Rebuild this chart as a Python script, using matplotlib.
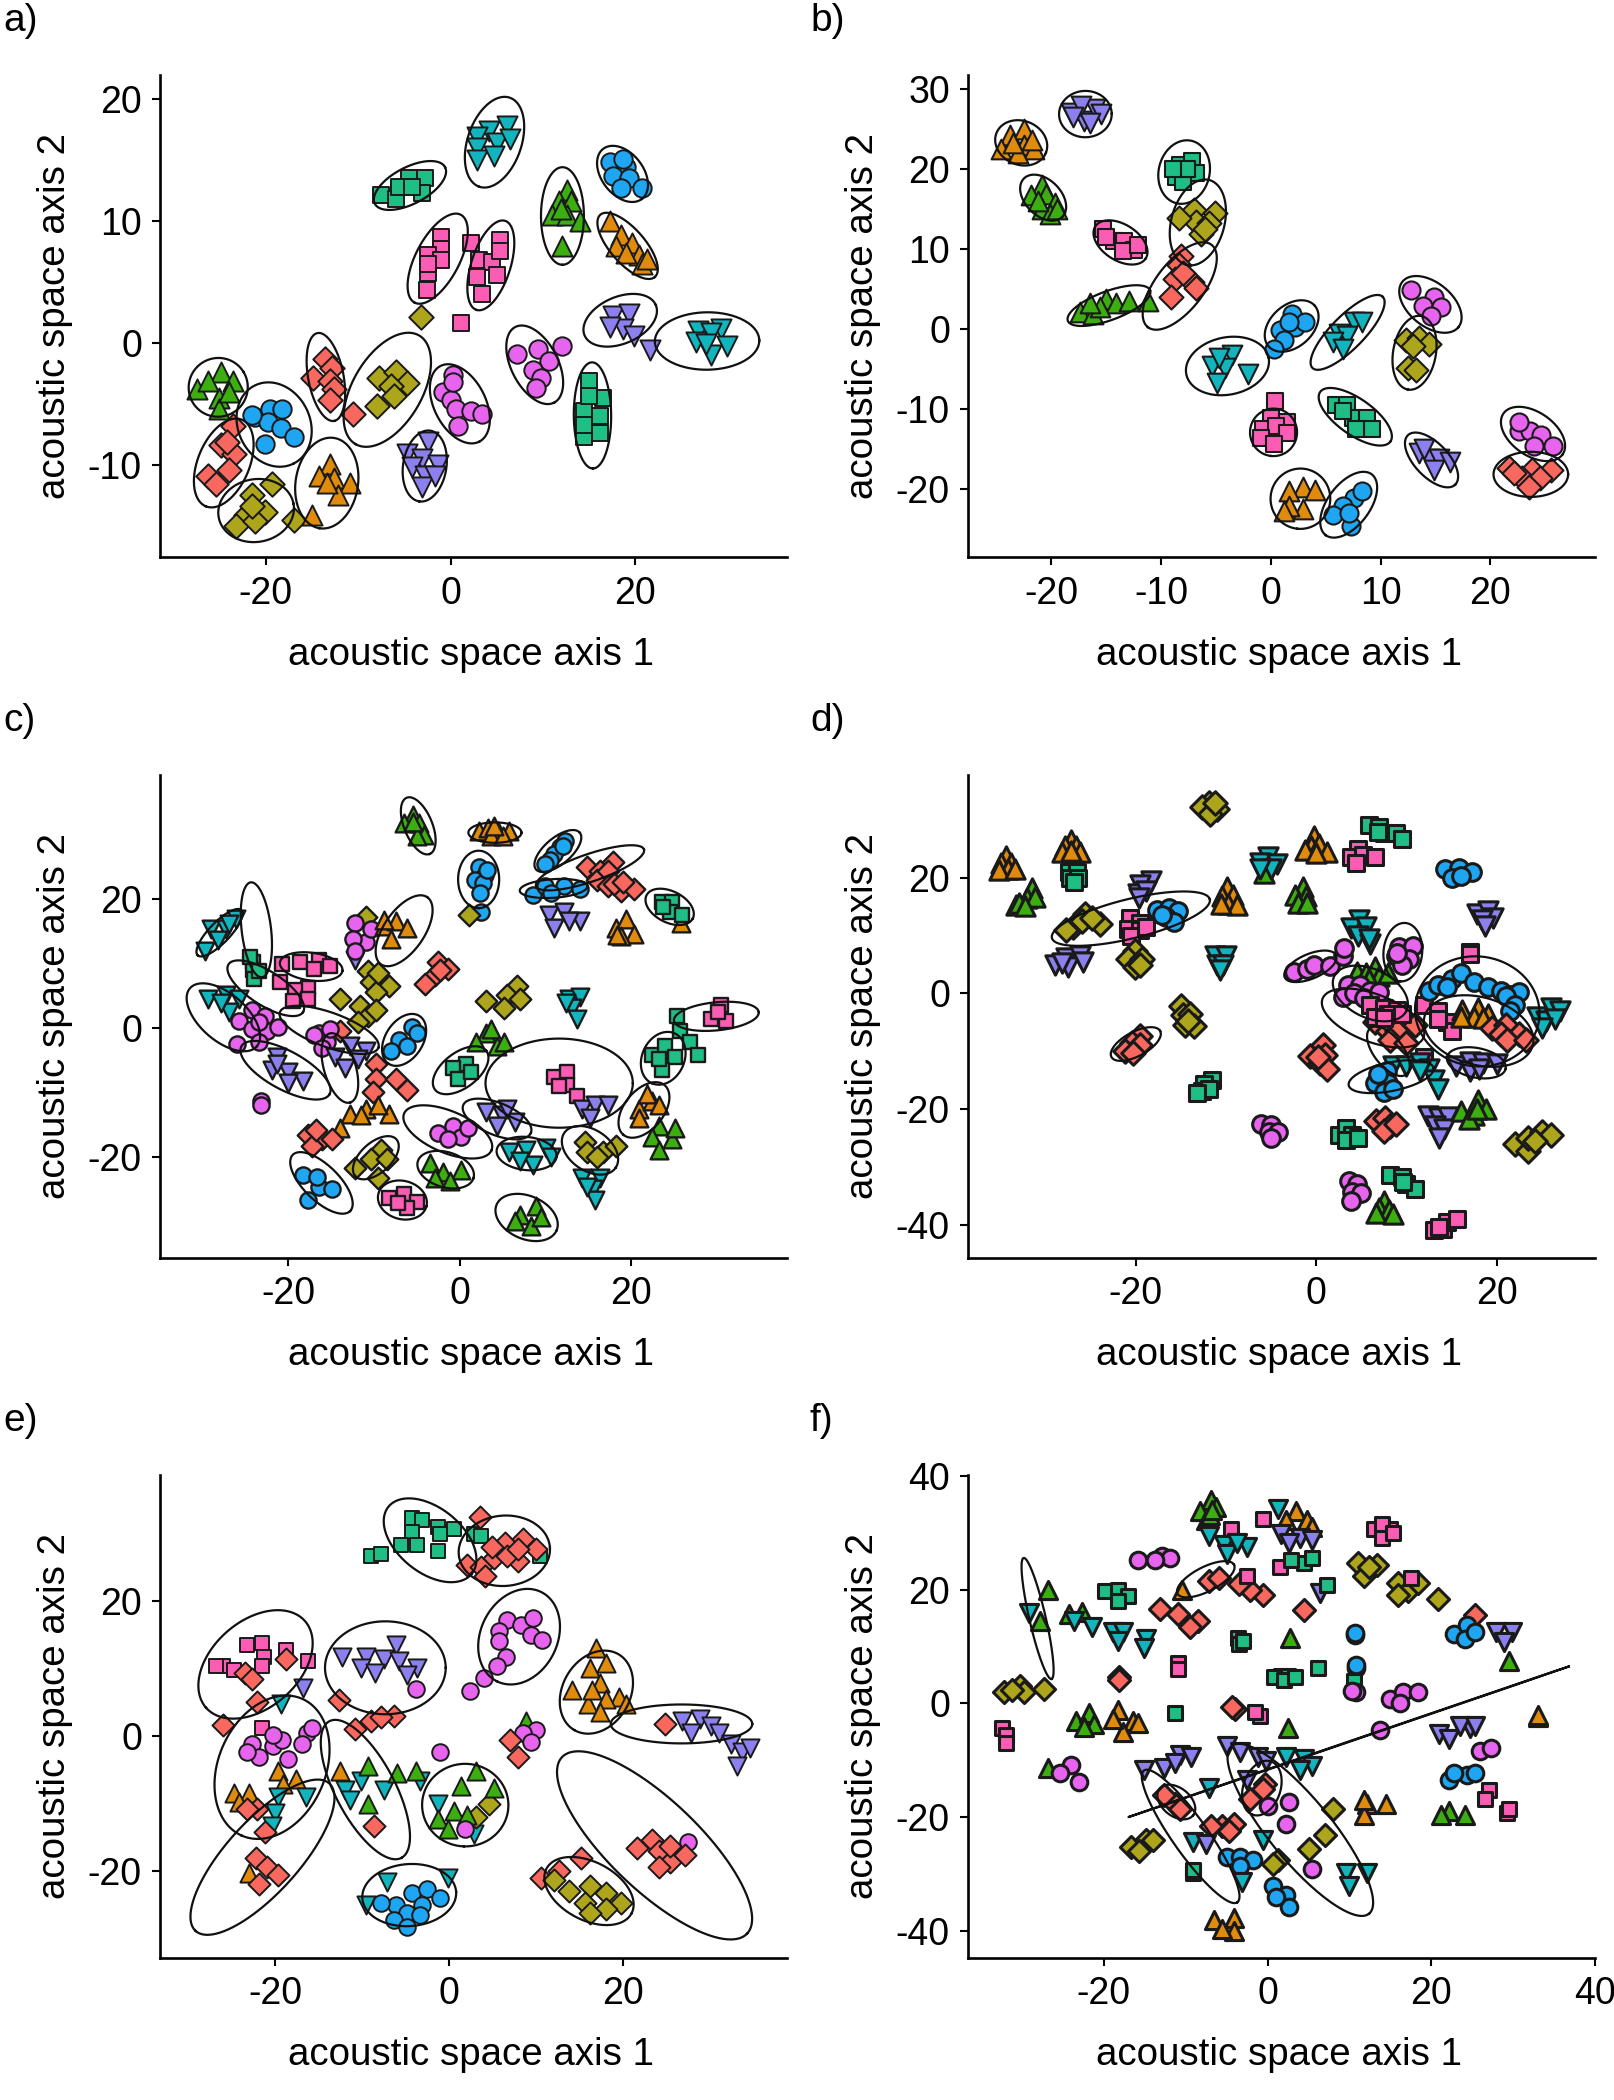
import numpy as np
import matplotlib
matplotlib.use("Agg")
import matplotlib.pyplot as plt

plt.rcParams['font.family'] = ['Liberation Sans', 'DejaVu Sans']
plt.rcParams['axes.unicode_minus'] = False

SPECIES_COLORS = {'sal': '#F8685F', 'ora': '#E08B0C', 'oli': '#ADA61C', 'gre': '#3DAE10', 'sea': '#1EBE85',
                  'tea': '#12B5BE', 'blu': '#1FA6F2', 'pur': '#8C80EE', 'mag': '#E765EE', 'pin': '#FB5DB4'}
SPECIES_MARKERS = {'sal': 'D', 'ora': '^', 'oli': 'D', 'gre': '^', 'sea': 's',
                   'tea': 'v', 'blu': 'o', 'pur': 'v', 'mag': 'o', 'pin': 's'}
SHAPE_SCALE = {'D': 1.15, '^': 1.55, 'v': 1.55, 'o': 1.3, 's': 1.05}
ELLIPSE_WIDEN = 1.1

PANEL_LABELS = ['a)', 'b)', 'c)', 'd)', 'e)', 'f)']
X_LABEL = 'acoustic space axis 1'
Y_LABEL = 'acoustic space axis 2'

XLIMS = [(-31.45, 36.4), (-27.6, 29.55), (-35, 38.2), (-38.6, 30.9), (-33.3, 38.9), (-36.6, 40)]
YLIMS = [(-17.6, 22), (-28.6, 31.8), (-35.5, 39.3), (-45.7, 37.9), (-32.8, 38.6), (-44.8, 40.2)]
XTICKS = [[-20, 0, 20], [-20, -10, 0, 10, 20], [-20, 0, 20], [-20, 0, 20], [-20, 0, 20], [-20, 0, 20, 40]]
YTICKS = [[-10, 0, 10, 20], [-20, -10, 0, 10, 20, 30], [-20, 0, 20], [-40, -20, 0, 20], [-20, 0, 20], [-40, -20, 0, 20, 40]]

# clusters: (species, [(axis 1, axis 2), ...])
A_POINTS = [
 ('gre', [(-24.9,-2.4),(-27.4,-3.8),(-23.5,-3.1),(-25.1,-4.5),(-25.1,-5.4),(-26.3,-3.1),(-24,-4)]),
 ('blu', [(-21.2,-6.1),(-19.6,-5.4),(-18.2,-5.4),(-19.8,-6.5),(-18.4,-7),(-17,-7.7),(-20.1,-8.3),(-21.5,-5.9)]),
 ('sal', [(-23.5,-6.8),(-24.8,-8.4),(-23.4,-9.1),(-24,-10.4),(-26.3,-10.9),(-25.4,-11.6),(-24.2,-8.1)]),
 ('oli', [(-19.3,-11.6),(-21.5,-12.5),(-20.1,-13.9),(-22.1,-14.1),(-23.2,-15),(-21.2,-14.6),(-17,-14.5),(-21.5,-13.4)]),
 ('ora', [(-13.1,-9.9),(-14.2,-10.9),(-12.6,-11.1),(-10.9,-11.5),(-12.2,-12.5),(-15,-14.1),(-13.4,-11.5)]),
 ('sal', [(-13.6,-1.3),(-12.8,-2.1),(-14.9,-2.9),(-13.1,-3.1),(-12.6,-3.8),(-13.1,-4.7),(-10.6,-5.8)]),
 ('oli', [(-7.8,-2.9),(-5.9,-2.4),(-4.7,-3.3),(-6.4,-3.5),(-6.1,-4.4),(-8,-5.2),(-3.2,2.1)]),
 ('mag', [(0.3,-2.6),(-0.8,-4),(0,-4.7),(0.6,-5.4),(2.2,-5.6),(3.4,-5.8),(0.8,-6.8),(0.3,-3.2)]),
 ('pur', [(-2.5,-8.1),(-4.7,-9.1),(-3.1,-9.5),(-1.4,-10),(-4.2,-10.2),(-2.8,-10.9),(-3.1,-11.8),(-1.7,-10.9)]),
 ('sea', [(-7.5,12.1),(-5.9,11.8),(-4.5,13.5),(-2.8,13.5),(-5.6,12.8),(-3.1,12.3),(-4.2,12.8)]),
 ('tea', [(6.1,17.8),(4.2,17.4),(2.8,16.9),(2.8,16),(5,16.4),(6.4,16.7),(2.8,15),(4.7,15.3)]),
 ('blu', [(17.3,14.8),(19,14.4),(17.6,13.7),(19.3,13.5),(18.7,15.1),(20.7,12.7),(18.4,12.7)]),
 ('gre', [(12.6,12.5),(11.7,11.6),(13,11.6),(11,10.5),(12.6,10.5),(14,10),(12,7.9),(11.9,11)]),
 ('ora', [(17.2,10),(18.4,8.8),(17.9,7.9),(19.6,8.2),(20.4,7.2),(20.7,6.5),(19,7.4),(21.3,6.9)]),
 ('pin', [(-1,8.7),(-1,7.7),(-2.5,7.2),(-1,6.8),(-2.5,5.7),(-2.6,4.3),(-2.5,6.5)]),
 ('pin', [(2.2,8.2),(5.3,8.4),(3.1,6.8),(4.5,6.6),(5,5.6),(2.8,5.4),(3.4,4),(5.3,7.5),(1.1,1.6)]),
 ('mag', [(7.2,-0.9),(9.5,-0.5),(12.1,-0.3),(10.6,-1.5),(8.9,-2.2),(9.8,-2.9),(9.2,-3.7)]),
 ('sea', [(15,-3.1),(16.5,-4.5),(14.4,-5.6),(16.2,-6),(14.4,-7.7),(16.2,-7.4),(15,-4.4),(14.4,-6.7)]),
 ('pur', [(17.6,2.2),(19.3,2.4),(18.7,1.1),(17.3,1.3),(19.8,0.6),(21.6,-0.6)]),
 ('tea', [(26.8,1),(29.3,1.1),(28.2,0.8),(26.5,0.1),(29.9,-0.3),(28.2,-1),(27.6,-0.1)]),
]
# ellipses: (tip 1 axis 1, tip 1 axis 2, tip 2 axis 1, tip 2 axis 2, minor to major ratio on the page)
A_ELLIPSES = [(-27.9,-4.9,-22.4,-2.4,.9),(-21.2,-3.5,-17,-9.9,.75),(-22.6,-6.3,-26.5,-13.4,.5),(-25.1,-14.3,-17,-13.2,.75),
 (-12.6,-7.8,-14.2,-15.2,.62),(-14.4,.8,-12.6,-6.4,.36),(-3.4,.6,-10.3,-8.3,.5),(-1.1,-1.9,3.1,-8.1,.55),(-2.2,-7.2,-3.4,-13,.55),
 (-8.2,11.4,-.6,14.4,.42),(6.4,20.1,3.1,12.8,.52),(16.5,15.9,20.7,11.8,.6),(12.1,14.4,12.1,6.4,.4),(16.2,10.5,22.1,5.4,.38),
 (1.1,10.5,-3.9,3.3,.4),(5.9,10,2.8,2.7,.38),(7,1.3,11.2,-4.9,.5),(15.3,-1.6,15.4,-10.3,.32),(14.5,.6,22.2,3.1,.55),(22.1,.1,33.4,.2,.5)]

B_POINTS = [
 ('ora', [(-23.8,24.2),(-22.5,25),(-24.6,22.5),(-22.5,23),(-21.6,22.5),(-23,22),(-21.8,23.6),(-23.5,23.2)]),
 ('pur', [(-18.2,27),(-17,26),(-16,27.5),(-17.3,27.8),(-15.5,26.8),(-18,26.5),(-16.5,25.7)]),
 ('gre', [(-20.9,18),(-21.9,16.7),(-20.5,16.8),(-19.7,15.7),(-20.9,15),(-20.1,14.3),(-21.2,16),(-19.5,15)]),
 ('pin', [(-15.3,12.5),(-14.3,11),(-13.4,11),(-12.5,9.8),(-13.5,9.7),(-15,11.5),(-12.1,10.5)]),
 ('sea', [(-8.3,20.5),(-7.2,21),(-8.6,19),(-6.8,19.5),(-8,18.3),(-7.6,20),(-8.9,20)]),
 ('oli', [(-7,14.8),(-5.1,14.5),(-6.8,13.3),(-5.6,13.2),(-6.4,11.8),(-8.4,13.8),(-6,12.5)]),
 ('sal', [(-8.2,9.1),(-8.4,8),(-8.7,6.2),(-7.2,5.9),(-6.8,5.1),(-9.1,4),(-8,7)]),
 ('gre', [(-17.4,2.1),(-16.2,1.8),(-15,3.7),(-14.1,3.2),(-12.9,3.5),(-11.2,3.5),(-15.6,2.7),(-16.5,3.2)]),
 ('blu', [(1.9,1.8),(.8,-.1),(2.2,.2),(3.1,.8),(1.2,-1.4),(.3,-2.5),(1.7,.8)]),
 ('tea', [(-3.5,-3.3),(-5.4,-4.7),(-4.2,-4.9),(-2.1,-5.7),(-4.9,-6.8),(-4.7,-3.6)]),
 ('tea', [(7.6,.8),(6.2,-.6),(6.9,-.9),(8.3,.8),(5.7,-1.7),(6.6,-2.5)]),
 ('mag', [(12.8,4.9),(14.9,4),(13.9,2.9),(15.5,2.7),(14.6,1.6)]),
 ('oli', [(12.3,-1.4),(13.5,-1.1),(14.4,-1.9),(12.5,-4.9),(13.2,-5.2),(13,-2.2)]),
 ('pin', [(.4,-9),(0,-11.1),(1.5,-11.7),(-.7,-12.5),(.5,-12.2),(1.5,-13),(-.9,-13.6),(.3,-14.4)]),
 ('sea', [(5.9,-9.5),(6.9,-9.5),(7.5,-11.1),(8.8,-11.1),(9.2,-12.5),(7.8,-12.5),(6.6,-10.3)]),
 ('pur', [(13.5,-15.5),(14.4,-16.3),(15.3,-16.3),(14.9,-17.6),(16.3,-16.6),(14,-15)]),
 ('mag', [(22.6,-12.8),(23.6,-12.8),(24.6,-13.3),(24,-14.7),(25.7,-14.7),(22.6,-11.7)]),
 ('sal', [(21.7,-17.4),(23.8,-17.6),(25.5,-17.6),(22.9,-18.7),(24.5,-18.7),(23.5,-19.8),(22.2,-18)]),
 ('ora', [(2.9,-19.8),(1.7,-20.3),(4,-20.1),(2.9,-22.5),(1.7,-22.2),(1.2,-22.8)]),
 ('blu', [(7.6,-21.2),(8.3,-20.3),(6.6,-22.2),(5.7,-23.3),(7.3,-24.7),(7.1,-23)]),
]
B_ELLIPSES = [(-25,24.5,-20.5,22,.75),(-19.3,26.8,-14.5,26.9,.8),(-22.5,18.8,-19,14,.6),(-16,12.8,-11.4,8.8,.55),(-7.2,23.5,-8.6,15.7,.72),
 (-5.6,18.6,-7.7,8,.55),(-5.4,10.5,-11.2,.2,.42),(-18.5,1,-11,4.8,.3),(-.2,-2.2,4,2.9,.62),(-7.7,-5.7,-.2,-3.6,.62),(3.8,-4.9,10.2,4,.3),
 (12,5.9,17.1,.2,.55),(13.7,1.6,12.5,-7.6,.52),(.5,-10,0,-15.9,.9),(4.5,-7.9,10.9,-14.1,.38),(12.5,-13.3,16.8,-19.5,.45),(21.2,-10.6,26.6,-15.7,.55),
 (20.3,-18.2,27.1,-18.2,.55),(3,-17.5,2.4,-25,.9),(9.2,-18.2,5,-25.8,.5)]

C_POINTS = [
 ('gre', [(-5.5,33),(-6.5,31.8),(-4.8,31.8),(-4.2,30),(-5,29.8),(-5.5,32)]),
 ('ora', [(2.2,30.5),(3.3,31),(4.5,30.5),(5.8,30.5),(3.7,29.7),(5,29.8),(4,31.4)]),
 ('blu', [(12.3,29),(11.7,28),(11,27),(10.5,26),(12,28.2),(10,25.5)]),
 ('blu', [(2.2,25),(3,23.7),(1.8,23),(2.7,22.5),(2.4,21),(3.2,24.5),(2.5,18)]),
 ('oli', [(1.1,17.5)]),
 ('sal', [(14.9,25),(16.4,24.3),(17.9,25.7),(16,23),(17.3,24.3)]),
 ('sal', [(17.3,22),(18.8,21.3),(20.3,21.6),(18,22.3),(19,22.6)]),
 ('blu', [(8.6,20.6),(10,22),(12.2,22.1),(10.7,21),(14,21.6)]),
 ('pur', [(10.4,17.6),(12.2,18),(14,16.6),(11,15.6),(12.8,16.6)]),
 ('ora', [(18.2,15.6),(19.4,16.9),(20.3,14.6),(18.8,14.3),(18.3,14.4)]),
 ('ora', [(25.8,16.3)]),
 ('sea', [(23.6,19.6),(24.8,19.6),(24.5,18),(26,17.6),(23.7,18.8)]),
 ('tea', [(-26.1,16.9),(-29.1,15.3),(-27.3,15.3),(-28.2,13.6),(-29.7,11.9),(-27,16.2)]),
 ('sea', [(-24.1,10.3),(-24.2,9),(-24,7.7),(-23.5,8.8),(-24.5,11)]),
 ('pin', [(-20.7,9.9),(-18.6,10.2),(-16.4,10.6),(-17,9.2),(-15.2,9.6)]),
 ('pin', [(-21,7.2),(-17.7,6.2),(-19.2,5.9),(-19.5,4.2),(-17.7,4.6)]),
 ('tea', [(-29.4,4.6),(-27.3,5.2),(-25.8,4.6),(-27,2.5),(-27.9,3.9)]),
 ('mag', [(-25.8,1.2),(-24.3,2.9),(-22.8,1.9),(-24.3,-.1),(-22.5,-.5),(-26,-2.5),(-23.4,-2.1),(-21.2,.2),(-23.5,1)]),
 ('pur', [(-21.3,-4.5),(-21.9,-6.5),(-20,-6.8),(-18.3,-8.2),(-20,-8.5),(-21.3,-5.5)]),
 ('mag', [(-23.2,-11.2),(-23.2,-11.9)]),
 ('oli', [(-10.9,17.3)]),
 ('pur', [(-12.2,10.6)]),
 ('mag', [(-12.2,16.3),(-11,13.3),(-12.5,13.9),(-10.4,15.3),(-12.2,11.9)]),
 ('ora', [(-8.9,15.9),(-7.4,16.6),(-6.2,15.6),(-8,13.9),(-8.9,16.8)]),
 ('oli', [(-10.7,8.9),(-10.4,7.2),(-8.3,6.6),(-9.8,5.6),(-9.5,8.5)]),
 ('sal', [(-2.6,10.2),(-1.4,9.2),(-2.9,8.2),(-4.1,6.9),(-2.3,9)]),
 ('oli', [(6.7,6.6),(5.5,5.2),(3.1,4.2),(5.2,3.2),(7,4.6)]),
 ('tea', [(12.8,4.6),(14,4.9),(13.1,3.2),(13.7,1.5),(12.4,3.9)]),
 ('pin', [(30.5,3.6),(29.3,1.5),(31.1,1.2),(30.2,2.5)]),
 ('sea', [(25.4,1.9),(25.7,-.5),(26.9,-2.1),(27.8,-4.2)]),
 ('sea', [(22.4,-4.2),(23.9,-2.8),(25.1,-4.5),(23.6,-6.5),(23.3,-4.8)]),
 ('oli', [(-14,4.6),(-11.6,3.5),(-10.7,1.9),(-11.9,.9),(-9.8,2.9)]),
 ('sal', [(-14,-.4)]),
 ('mag', [(-16.4,-.8),(-15.5,-2.1),(-17,-1.1),(-15.2,-.1),(-16.1,-3.1)]),
 ('pur', [(-14.6,-4.5),(-12.8,-2.8),(-11,-3.5),(-13.4,-6.2),(-11.9,-4.8)]),
 ('blu', [(-5.6,.2),(-7.1,-1.8),(-6.2,-2.8),(-8,-3.5),(-5,-.8)]),
 ('sal', [(-9.8,-5.5),(-9.8,-7.8),(-7.4,-7.8),(-6.2,-9.5),(-10.1,-9.8)]),
 ('ora', [(-12.8,-13.2),(-11,-12.5),(-8.3,-13.2),(-9.5,-11.9),(-11.5,-13.5)]),
 ('ora', [(-14,-15.5)]),
 ('sal', [(-17.7,-16.5),(-16.1,-17.2),(-14.9,-17.2),(-17.3,-18.2),(-16.8,-15.8)]),
 ('blu', [(-18.3,-22.8),(-16.4,-24.6),(-14.9,-24.9),(-17.7,-26.6),(-16.7,-23.1)]),
 ('oli', [(-9.2,-18.9),(-10.4,-20.2),(-12.2,-21.6),(-9.5,-23.2),(-8.5,-20.2)]),
 ('pin', [(-8.3,-26.3),(-6.5,-25.6),(-5,-26.9),(-6.2,-27.9),(-7.2,-27)]),
 ('gre', [(-3.5,-20.9),(-2,-22.2),(.1,-21.9),(-1.1,-23.6),(-2.9,-23.2)]),
 ('mag', [(-2.6,-16.2),(-.8,-15.2),(.1,-16.9),(-1.4,-17.2),(1,-15.5)]),
 ('pur', [(3.1,-12.9),(4.9,-13.5),(6.4,-14.5),(4.3,-15.2),(5.5,-12.5)]),
 ('tea', [(5.8,-19.2),(7.7,-18.9),(10.1,-18.6),(8.6,-21.2),(7,-20.6),(10.7,-19.9)]),
 ('gre', [(8.9,-27.6),(7,-28.9),(8.3,-30.6),(9.5,-29.3),(6.4,-29.9)]),
 ('pin', [(11,-7.5),(12.5,-6.8),(12.5,-8.8),(13.7,-10.5),(11.6,-9)]),
 ('pur', [(14.3,-12.5),(15.8,-11.9),(17.3,-11.9),(15.2,-13.9)]),
 ('oli', [(14.6,-17.6),(14.9,-19.2),(16.7,-19.2),(18.2,-18.2),(16,-19.9)]),
 ('tea', [(14.3,-23.2),(16.4,-23.2),(15.5,-24.9),(15.8,-26.6),(14.9,-24.6)]),
 ('ora', [(20.9,-12.5),(22.4,-11.2),(23.3,-11.9),(20.9,-13.9),(21.8,-10.2)]),
 ('gre', [(23.3,-15.2),(22.4,-16.9),(24.8,-17.2),(23.3,-18.9),(25.1,-15.5)]),
 ('gre', [(3.1,-.8),(1.9,-2.1),(4.3,-2.8),(5.2,-2.1),(3.7,-.1)]),
 ('sea', [(.7,-5.5),(-.8,-6.2),(-.2,-7.8),(1.3,-6.8)]),
]
C_ELLIPSES = [(-6.2,35.7,-3.5,27,.42),(1,30.3,7.2,30.3,.35),(8.9,24.6,14,30.3,.42),(2.2,27.5,2.2,18.6,.65),(8.9,22,21.5,27.7,.22),
 (7,21.3,14.9,22,.25),(21.8,20.6,27.2,17,.55),(-25.5,18.3,-30.6,11.3,.3),(-24.4,22.6,-23.1,7.9,.28),(-27,9.9,-18.3,2.5,.35),(-21,10.2,-13.7,8.9,.4),
 (-31.5,6.2,-23.7,-2.8,.48),(-25.5,-2.8,-15.2,-10.2,.35),(-9.2,9.9,-3.8,20.3,.45),(-21,2.5,-9.5,-3,.3),(-4.7,1.9,-8.3,-5.5,.6),(-15.2,-.8,-12.8,-11.5,.4),
 (-19.5,-19.6,-12.8,-28.3,.4),(-7.4,-17.2,-12.2,-22.9,.5),(-9.5,-25.6,-3.9,-27.6,.7),(-4.9,-20.6,1.6,-23.2,.55),(-6.5,-13.2,3.7,-18.9,.4),(.4,-11.9,8.3,-16.2,.4),
 (4.3,-18.9,11.3,-19.9,.5),(4.3,-27.3,11.3,-31.3,.6),(3,-8.5,20.2,-8.5,.55),(12.2,-16.2,18.2,-21.6,.6),(23.9,-8.8,19.1,-16.5,.55),(25,1.2,34.9,2.5,.3),
 (25.1,-.8,22.4,-8.5,.7),(-2.9,-9.5,3.1,-3.5,.5)]

D_POINTS = [
 ('oli', [(-11.9,33),(-12.7,32.2),(-11,32),(-11.8,31),(-11.2,33)]),
 ('ora', [(-34.4,23.8),(-34.9,22.5),(-33.8,22.5),(-34.2,21.5),(-35.2,21.4),(-33.4,21.6)]),
 ('ora', [(-27.2,26.5),(-27.9,25.5),(-26.6,25.5),(-28.2,24.5),(-26.2,24.5),(-27.2,24.7)]),
 ('sea', [(-27.4,21),(-26.5,21),(-27.3,20),(-26.4,19.9),(-26.9,19.3)]),
 ('gre', [(-31.5,18.3),(-33.3,15.3),(-32.1,16.5),(-31.2,16.7),(-33,15.6),(-32.3,15.2)]),
 ('pur', [(-18.3,19.5),(-19.5,18.8),(-19.8,17.2),(-18.9,17.8),(-19.7,16.5)]),
 ('ora', [(-9.9,18.5),(-10.4,16.8),(-9.2,17),(-9.8,15.5),(-8.8,15.3),(-10.6,15.5)]),
 ('blu', [(-17.6,14.5),(-16.3,14.8),(-15.3,14.2),(-16.6,13.2),(-15.8,12.4),(-17.1,13.6)]),
 ('oli', [(-25.6,13.8),(-27,11.5),(-26,12.5),(-24,12),(-27.7,11),(-24.8,13)]),
 ('pin', [(-20.6,13),(-19.5,12.2),(-20.9,11.2),(-19.5,11),(-20.5,10),(-18.9,11.5)]),
 ('pur', [(-29,5),(-27.7,6.2),(-26.2,6.4),(-27.5,4.5),(-25.9,5.5),(-28.2,5.3)]),
 ('oli', [(-20.1,7.3),(-20.9,6),(-19.3,6),(-20.1,4.6),(-19.5,5)]),
 ('tea', [(-11.2,6.5),(-10,6.5),(-11,5),(-10.3,5),(-10.7,4)]),
 ('oli', [(-15,-2.2),(-14.8,-3.7),(-14,-3.5),(-14.6,-5.5),(-13.6,-5.6),(-14.2,-4.7)]),
 ('sal', [(-19.5,-7.4),(-20.4,-8.5),(-19.5,-9),(-21.2,-10),(-20.3,-10.3)]),
 ('sea', [(-11.5,-15),(-12.4,-15.6),(-12.7,-16.8),(-11.9,-16.5),(-13.2,-17.3)]),
 ('mag', [(-6.1,-22.6),(-5,-22.7),(-5.2,-23.9),(-4.2,-24),(-5,-25)]),
 ('sea', [(2.5,-24.5),(3.3,-23.2),(4,-24.5),(3.3,-25.4),(4.6,-25)]),
 ('sal', [(6.6,-22),(7.6,-21.5),(8.2,-23),(7.5,-23.8),(8.8,-22.6)]),
 ('pur', [(12.4,-21.2),(13.6,-21.5),(14.6,-21.3),(13.2,-23),(14.2,-23.5),(13.6,-25)]),
 ('gre', [(16,-20.3),(17.9,-18.5),(17.5,-21),(18.8,-20),(16.9,-21.7),(17.8,-20)]),
 ('oli', [(22,-26),(23.5,-27.3),(23.5,-25),(25,-24),(26,-24.5),(24.3,-25.5)]),
 ('mag', [(3.6,-32.5),(4.5,-33),(4,-34.3),(5,-34.5),(3.8,-36)]),
 ('sea', [(8.2,-31.5),(9.5,-31.7),(9.9,-33),(11,-33.8),(9.6,-32.6)]),
 ('gre', [(7.5,-36),(7,-37.2),(8.1,-37.4),(6.6,-38),(8.5,-38.2)]),
 ('pin', [(13,-41),(14,-40.8),(14.5,-39.5),(15.6,-39),(13.6,-40.5)]),
 ('ora', [(-.3,27.3),(-.6,25.5),(.3,25.8),(-1.2,24.8),(1.2,24.5),(0,24.3)]),
 ('sea', [(5.8,29.2),(7,28.8),(7.5,27.7),(8.8,27.7),(9.5,26.8),(6.9,28)]),
 ('pin', [(4.6,25),(3.9,23.7),(5.2,24),(6.5,23.6),(4.4,22.5)]),
 ('gre', [(-5.8,20.8)]),
 ('tea', [(-5.3,23.7),(-6.2,22.6),(-4.3,22.4),(-5,21.5),(-6.2,21.5)]),
 ('gre', [(-1.5,18.5),(-2.4,17),(-1.1,16.8),(-2,15.6),(-1,15.6)]),
 ('blu', [(14.3,21.5),(15.8,21.7),(17.3,21),(15,20),(16,20.3)]),
 ('pur', [(17.8,13.8),(19,14.2),(19.6,13),(18.4,12.8),(18.7,11.6)]),
 ('tea', [(4.7,12.7),(3.8,11.3),(5.5,11.5),(4.6,10),(6,8.5),(5.8,9.5)]),
 ('mag', [(-2.5,3.8),(-1,4.3),(-.2,5),(1.5,4.8),(3,6.5),(3.1,7.8)]),
 ('mag', [(9.2,8),(10.7,8.3),(8.8,6.5),(10.3,6),(9.5,5),(9,7)]),
 ('gre', [(4.5,3.8),(5.5,3.5),(6.5,4.5),(7,3),(8,3.5),(5.9,2.5)]),
 ('mag', [(3.5,1.5),(4.8,1.5),(3,-.6),(4.2,0),(6,.5),(5.3,-.8),(7,.3)]),
 ('sal', [(6.5,-5),(8,-6.5),(9,-6.5),(8.2,-8),(10,-8.5),(11,-5.5)]),
 ('pin', [(6,-2),(7.5,-2.5),(9,-2.8),(8,-3.6),(9.5,-3.5),(6.5,-4),(7.5,-4.2)]),
 ('pin', [(12,-2),(13.5,-3),(14.5,-5),(15,-6.5),(13.5,-4.5)]),
 ('blu', [(12.5,.5),(13.5,1.5),(15,2.5),(16,3.5),(14.5,1.2)]),
 ('blu', [(17.5,2),(19,1.2),(20.5,.5),(21.5,-.2),(22.5,.3),(21,-.5),(22,-2),(21.5,-3)]),
 ('ora', [(16.2,-2.8),(17.9,-2.6),(19,-3.5),(17.5,-4),(16,-4),(18.5,-4.2)]),
 ('pin', [(17,7.1),(17,6.8)]),
 ('tea', [(24.5,-4),(26,-2.5),(27,-3),(25.5,-4.8),(26.5,-4.5),(25,-6)]),
 ('sal', [(19.5,-6),(21,-5.5),(20.5,-7),(22.5,-7),(21.2,-8),(23.2,-8)]),
 ('pur', [(15.5,-12.5),(17,-11.8),(18.5,-12),(20,-12.2),(17,-13.5),(18,-13)]),
 ('pin', [(12,-11)]),
 ('tea', [(8.5,-12.5),(10,-12.5),(11.5,-12),(12.5,-13),(13,-15),(13.5,-16.5),(11.5,-13.5)]),
 ('blu', [(6.5,-15.5),(7.8,-13.5),(8,-15.5),(7.5,-17),(8.5,-16.5),(6.8,-14)]),
 ('sal', [(-.7,-10.8),(.8,-9),(1,-10.6),(.4,-12),(1.2,-13),(.2,-11)]),
]
D_ELLIPSES = [(-29.3,9.6,-11.8,16.3,.22),(-22.7,-11,-17.3,-6.5,.4),(-3.5,2.8,2.2,6.6,.4),(9.9,12.2,9.3,2.1,.6),(.7,-.9,11.9,-7.6,.4),
 (3.6,-15.9,13,-12.9,.3),(11,-1.6,24.7,-4.6,.8),(12,-4,24,-9,.55),(14.5,-11,21,-13,.45),(6,-6,10,-14,.45),(2,3,10,-3,.55)]

E_POINTS = [
 ('sea', [(-4.3,32.2),(-3.1,31.9),(-4.3,30.2),(-1.3,30.9),(.5,30.6),(-1,29.9),(-5.5,28.2),(-3.7,28.2),(-1.3,27.3),(2.9,29.9),(3.7,29.6),(10.5,26.6),(-9,26.6),(-7.8,26.9)]),
 ('sal', [(3.6,32.4),(2,25.3),(3.7,25),(4.1,23.6),(5.2,26.3),(6.4,28.6),(7.9,25.9),(8.5,29.2),(10,27.6),(6.7,26.6),(4.9,27.9),(7.9,27.6)]),
 ('mag', [(6.7,17.2),(8.3,16.4),(9.7,17.4),(5.7,15.5),(9.4,15),(10.7,14.2),(5.7,14.1),(6.5,11.7),(5.5,10.4),(4,8.6),(2.4,6.7)]),
 ('ora', [(16.9,13.1),(18,10.8),(16.2,10.1),(17.4,7.8),(14.1,6.8),(19.5,5.8),(16,4.8),(18,5.5),(16.5,6.8),(20.4,4.8),(17.4,3.5)]),
 ('sal', [(24.8,1.8)]),
 ('pur', [(26.8,2.2),(28.9,2.5),(30.1,1.5),(27.9,.5),(31.1,.5),(32.5,-1.1),(33.7,-2.4),(33.1,-4.4),(34.6,-1.8)]),
 ('pin', [(-23.3,13.4),(-21.6,13.7),(-21.3,11.7),(-18.8,12.7),(-16.2,11.1),(-21.6,10.4),(-26,10.4),(-26.9,10.4),(-24.8,9.8)]),
 ('sal', [(-23.5,9.3),(-18.8,11.4),(-22.7,8.4)]),
 ('pur', [(-12.3,11.7),(-9.6,11.7),(-6.1,13.4),(-7.5,11.4),(-5.8,11.1),(-3.7,10.1),(-10.2,10.1),(-8.5,9.4),(-4.9,9.1),(-16.8,7.1)]),
 ('mag', [(-3.8,6.9)]),
 ('sal', [(-12.7,5.3),(-22.1,5.1),(-26,1.7),(-10.8,1),(-9,2.3),(-6.4,3),(-7.8,2.8)]),
 ('tea', [(-19.4,4.8)]),
 ('pin', [(-21.5,1.2)]),
 ('mag', [(-22.7,-1.1),(-20.3,-1.5),(-19.3,-.5),(-21.9,-3.1),(-18.6,-3.4),(-16.4,.5),(-17,-1.1),(-15.8,1.2),(-20.3,.2),(-23.3,-2.4)]),
 ('ora', [(-24.8,-8.4),(-23,-8.4),(-19.7,-5.1),(-17.6,-6.4),(-19.1,-7.1),(-12.6,-5.1),(-24.2,-9.7)]),
 ('sal', [(-22.1,-10.7),(-23.3,-10.7)]),
 ('tea', [(-19.7,-9),(-20,-11.4),(-16.5,-9),(-12,-8),(-10.2,-6.7),(-11.4,-9.4),(-7.5,-8),(-3.4,-6.7),(-1.3,-10),(-20.4,-13.3)]),
 ('gre', [(-9.3,-4.4),(-6,-5.4),(-3.8,-5.1),(-9.3,-10)]),
 ('ora', [(-23.1,-20.3)]),
 ('sal', [(-8.7,-13.3),(-21.2,-14.2),(-22.2,-18),(-21,-19.3),(-19.7,-20.6),(-21.9,-21.9)]),
 ('tea', [(2.9,-14.4)]),
 ('oli', [(4.6,-10),(3.1,-12)]),
 ('gre', [(3.1,-5.1),(1.4,-7.4),(5.2,-7.7),(.5,-11),(-1.3,-12.3),(-.1,-13.7),(2,-11.7)]),
 ('mag', [(1.8,-13.7),(-1,-2.4)]),
 ('gre', [(8.8,2.2)]),
 ('mag', [(10,.9),(8.5,.5),(9.4,-.8)]),
 ('sal', [(7,-.5),(7.9,-3.1)]),
 ('tea', [(-9.6,-24.9),(-7.2,-21.6),(-.1,-21)]),
 ('blu', [(-6.1,-24.9),(-4.3,-23.2),(-2.5,-22.6),(-1,-23.9),(-3.1,-24.9),(-4.9,-26.2),(-6.4,-27.2),(-4.9,-28.2),(-3.4,-26.5),(-7.8,-24.6)]),
 ('sal', [(12.7,-19.9),(15.2,-18),(10.6,-20.9)]),
 ('oli', [(13.8,-22.9),(16.2,-22.2),(12.1,-21.3),(15.6,-24.6),(18,-23.2),(19.8,-24.6),(18,-25.5),(16.2,-26.2)]),
 ('mag', [(27.5,-15.6)]),
 ('sal', [(21.6,-16.6),(23.4,-15.3),(24.2,-17),(25.4,-18.6),(27.2,-17.6),(24.2,-19.3),(25.4,-16.3)]),
]
E_ELLIPSES = [(-7,33.9,2.6,24,.55),(1.1,26.9,11.6,27.9,.7),(10.6,21.3,5.5,8.1,.7),(19.5,12.1,14.4,.9,.7),(18.6,1.8,34.9,1.8,.25),(-16.6,17,-28,4.2,.6),
 (-14.3,10.1,-.4,10.1,.7),(-16.9,5.5,-23.9,-14.7,.65),(-13.8,2.2,-5.5,-18,.35),(-13.8,-7,-29.2,-28.8,.33),(2,-4.1,1.7,-16.3,.95),(-10,-24,.8,-23,.6),
 (11.2,-19.6,21,-26.2,.55),(13,-3.1,34.3,-29.2,.32)]

F_POINTS = [
 ('gre', [(-6.9,35.8),(-8.2,33.8),(-6.3,34.6),(-7.5,32.2),(-7,33.2),(-6.8,34)]),
 ('pin', [(-4.5,30.7),(-.6,32.4),(1.5,24)]),
 ('tea', [(-7.2,29.5),(-5.3,27.9),(-2.5,27.5),(-5,26.3),(-3.7,28.2)]),
 ('tea', [(1.3,34.2)]),
 ('ora', [(3.5,33.8),(4.8,32.2),(2.3,32.2),(5.4,31)]),
 ('pur', [(1.6,29.9),(3.9,29.1),(5.4,28.7),(2.6,28.3)]),
 ('sea', [(4.5,24.8),(5.4,25.6),(2.9,25.2)]),
 ('pin', [(13,30.7),(14.9,30.7),(14,29.1),(14,31.5),(15.3,30)]),
 ('oli', [(11.1,24.8),(13.4,24.4),(11.8,22.4),(12.4,24)]),
 ('oli', [(15.9,21.2),(17.2,19.7),(15.9,19),(18.4,21.2)]),
 ('pin', [(17.5,22)]),
 ('oli', [(20.8,18.3)]),
 ('sal', [(25.4,15.6)]),
 ('blu', [(22.8,12.2),(24.4,13.8),(24.1,11.4),(25.4,12.6)]),
 ('pur', [(27.9,12.6),(29.8,12.6),(28.9,10.8)]),
 ('gre', [(29.5,7.5)]),
 ('blu', [(10.7,12),(10.7,12.4),(10.8,6.3),(10.8,6.7)]),
 ('sea', [(10.5,3.9)]),
 ('mag', [(10.8,2),(10.3,2.2)]),
 ('mag', [(14.9,.8),(16.5,2),(18.4,2),(16.2,0)]),
 ('gre', [(2.7,11.6)]),
 ('pur', [(6.4,19.4)]),
 ('sea', [(7.2,20.8),(6.1,6.3),(1.6,4.9),(2.5,4.9),(.8,4.7),(2,4.2),(3.3,4.7),(-3.6,11.5),(-3.5,10.5),(-3,11),(-11.3,-1.6)]),
 ('sal', [(4.5,16.5)]),
 ('pin', [(-10.9,7.2),(-10.9,6)]),
 ('sal', [(-18.2,4.6),(-18.2,4.2)]),
 ('sal', [(-4,-1),(-4.3,-.6)]),
 ('pin', [(-.9,-2.2),(-1.5,-1.5)]),
 ('gre', [(2.5,-4.3)]),
 ('ora', [(33,-2.4),(33,-2.1)]),
 ('gre', [(-23.4,-3.1),(-21.8,-1.6),(-21.2,-3.6),(-22.4,-4.1)]),
 ('ora', [(-18.3,-1.2),(-16.4,-3.1),(-17.7,-5.1),(-18.9,-2.8),(-15.8,-3.5)]),
 ('oli', [(-32.2,2),(-30.3,3.1),(-29.7,2),(-27.3,2.5),(-31.2,2.4)]),
 ('pin', [(-32.5,-4.3),(-31.9,-5.5),(-31.9,-6.9)]),
 ('tea', [(-29.2,15.9)]),
 ('gre', [(-27.8,14.5),(-26.8,20)]),
 ('gre', [(-26.8,-11.4)]),
 ('mag', [(-24,-10.8),(-25.3,-12.2),(-23,-13.8)]),
 ('gre', [(-22.7,16.1),(-24.3,15.7)]),
 ('tea', [(-23.7,14.5),(-21.5,13.4),(-18.9,12.6),(-17.7,12.6),(-18.3,11),(-14.8,11.4),(-15.1,9.8)]),
 ('sea', [(-19.9,19.7),(-18.3,20),(-17,18.9),(-18.3,18.1)]),
 ('mag', [(-15.8,25.3),(-12.9,25.9),(-11.9,25.6),(-13.8,25.2)]),
 ('sal', [(-13.2,16.7),(-11,15.7),(-8.5,14.5),(-9.5,13.4)]),
 ('ora', [(-10.4,20)]),
 ('sal', [(-7.2,21.6),(-5.9,22),(-.6,19.1),(-2.2,20),(-3.5,21)]),
 ('pin', [(-2.5,22.4)]),
 ('pur', [(-15.1,-11.8),(-12.6,-11.4),(-10.7,-9),(-9.4,-9.4),(-11.3,-10.5)]),
 ('tea', [(-7.2,-14.9)]),
 ('pur', [(-5,-7.5),(-3.4,-8.6),(-1.2,-9.4),(-.2,-10.2),(-2.5,-13.4)]),
 ('tea', [(2.3,-9.4),(4.5,-9.8),(5.4,-11),(3.9,-11.8)]),
 ('sal', [(-2.2,-16.9),(-.3,-14.2),(-.5,-15)]),
 ('sal', [(-11.3,-17.7),(-12.6,-16.1),(-10.7,-18.5)]),
 ('mag', [(2.6,-17.3),(2.3,-21.2),(.1,-18.1)]),
 ('sal', [(-5.6,-21.6),(-4.1,-21.2),(-6.9,-21.6),(-4.7,-22.5)]),
 ('tea', [(-9.1,-24.4),(-.6,-24)]),
 ('pur', [(-7.5,-24.8)]),
 ('blu', [(-5,-27.1),(-3.4,-27.1),(-1.8,-27.5),(-3.4,-28.6)]),
 ('oli', [(1.3,-27.5),(.7,-28.3),(7,-23.2),(5.1,-25.6),(8,-18.5)]),
 ('mag', [(5.4,-29.1)]),
 ('sea', [(-9.1,-29.9),(-9.1,-29.4)]),
 ('tea', [(-3.1,-31.4),(9.6,-29.9),(12.1,-29.9),(9.9,-32.2)]),
 ('blu', [(.7,-32.2),(2.3,-33.8),(2.6,-35.8),(1,-34)]),
 ('ora', [(-6.6,-38.1),(-4.1,-37.7),(-4.1,-40.1),(-5.6,-39.7)]),
 ('oli', [(-16.7,-25.2),(-14.8,-24),(-15.7,-26),(-14,-24)]),
 ('mag', [(13.7,-4.7)]),
 ('pur', [(21,-5.3),(22.2,-6.3),(24.7,-4.3),(23.5,-3.9),(25.4,-3.9)]),
 ('mag', [(26,-8.3),(27.3,-7.9)]),
 ('blu', [(22.2,-13.4),(24.4,-12.6),(22.8,-12.2),(25.4,-12.2)]),
 ('pin', [(27,-15.3),(26.6,-16.9),(29.2,-19.3),(29.5,-18.5)]),
 ('gre', [(22.2,-18.9),(24.1,-19.7),(21.2,-19.7)]),
 ('ora', [(12.1,-17.7),(14.5,-17.7),(11.8,-19.7),(11.8,-17)]),
]
F_ELLIPSES = [(-11,19.3,-4.1,24.4,.35),(-29.8,25.6,-26.4,4.3,.12),(-17,-20,36.8,6.5,.001),(-15.1,-11.8,-3.7,-35,.2),(-4.4,-7.5,12.4,-37,.26),
 (-13.2,-15,-9.1,-19.7,.6),(.4,-10.2,-1.8,-19.6,.6)]

ALL_POINTS = [A_POINTS, B_POINTS, C_POINTS, D_POINTS, E_POINTS, F_POINTS]
ALL_ELLIPSES = [A_ELLIPSES, B_ELLIPSES, C_ELLIPSES, D_ELLIPSES, E_ELLIPSES, F_ELLIPSES]
MARKER_AREA = [135, 130, 105, 125, 110, 110]
EDGE_WIDTH = [1.4, 1.5, 1.7, 2.2, 1.4, 2.2]

W, H = 1615, 2100
fig = plt.figure(figsize=(W / 100, H / 100), dpi=100, facecolor='white')
LEFTS = [160, 968]
TOPS = [74.5, 774.5, 1475]
AX_W, AX_H = 627, 483

for i in range(6):
    row, col = i // 2, i % 2
    ax = fig.add_axes([LEFTS[col] / W, 1 - (TOPS[row] + AX_H) / H, AX_W / W, AX_H / H])
    ax.set_xlim(*XLIMS[i])
    ax.set_ylim(*YLIMS[i])
    ax.set_xticks(XTICKS[i])
    ax.set_yticks(YTICKS[i])
    ax.tick_params(labelsize=27, length=6, width=1.5, color='black', pad=7)
    for s in ('top', 'right'):
        ax.spines[s].set_visible(False)
    for s in ('left', 'bottom'):
        ax.spines[s].set_linewidth(1.9)
    ax.set_xlabel(X_LABEL, fontsize=27.7)
    ax.set_ylabel(Y_LABEL, fontsize=27.7)
    ax.xaxis.set_label_coords(0.496, -0.164)
    ax.yaxis.set_label_coords(-0.138, 0.5)
    for key, pts in ALL_POINTS[i]:
        arr = np.array(pts)
        m = SPECIES_MARKERS[key]
        ax.scatter(arr[:, 0], arr[:, 1], s=MARKER_AREA[i] * SHAPE_SCALE[m], marker=m, c=SPECIES_COLORS[key],
                   edgecolors='#1a1a1a', linewidths=EDGE_WIDTH[i], zorder=3, clip_on=False)
    sx = AX_W / (XLIMS[i][1] - XLIMS[i][0])
    sy = AX_H / (YLIMS[i][1] - YLIMS[i][0])
    t = np.linspace(0, 2 * np.pi, 200)
    for x1, y1, x2, y2, ratio in ALL_ELLIPSES[i]:
        cx, cy = (x1 + x2) / 2, (y1 + y2) / 2
        ux, uy = (x2 - x1) / 2 * sx, (y2 - y1) / 2 * sy
        vx, vy = -uy * ratio * ELLIPSE_WIDEN, ux * ratio * ELLIPSE_WIDEN
        ax.plot(cx + (ux * np.cos(t) + vx * np.sin(t)) / sx, cy + (uy * np.cos(t) + vy * np.sin(t)) / sy,
                color='#111111', lw=1.6, zorder=4, clip_on=False)
    fig.text((3 + col * 807) / W, 1 - (row * 700 + 3) / H, PANEL_LABELS[i],
             fontsize=28, va='top', ha='left')

fig.savefig('out.png', dpi=100)
